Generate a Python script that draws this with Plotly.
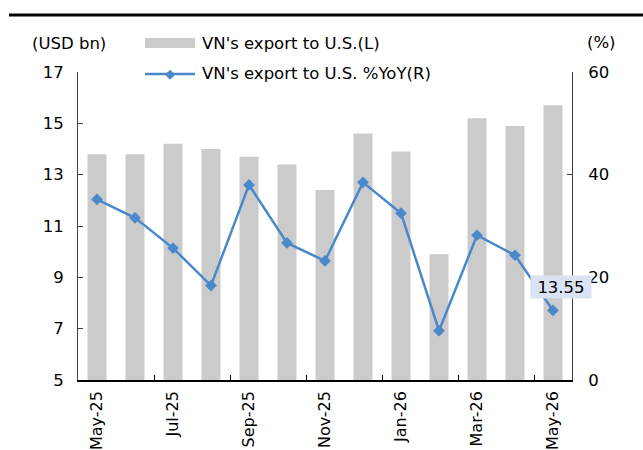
import plotly.graph_objects as go

months = ["May-25", "Jun-25", "Jul-25", "Aug-25", "Sep-25", "Oct-25", "Nov-25",
          "Dec-25", "Jan-26", "Feb-26", "Mar-26", "Apr-26", "May-26"]
export_usd_bn = [13.8, 13.8, 14.2, 14.0, 13.7, 13.4, 12.4, 14.6, 13.9, 9.9, 15.2, 14.9, 15.7]
export_yoy = [35.2, 31.6, 25.7, 18.4, 38.0, 26.7, 23.2, 38.5, 32.5, 9.6, 28.2, 24.3, 13.55]
tick_labels = ["May-25", "Jul-25", "Sep-25", "Nov-25", "Jan-26", "Mar-26", "May-26"]

W, H = 643, 450
L, R, T, B = 78, 572, 72, 380
FONT = "DejaVu Sans"
FS = 16.5
BAR_C = "#cbcbcb"
LINE_C = "#4a88cc"

x = list(range(len(months)))

fig = go.Figure()
fig.add_trace(go.Bar(x=x, y=export_usd_bn, marker_color=BAR_C, marker_line_width=0,
                     name="VN's export to U.S.(L)", yaxis="y", xaxis="x"))
fig.add_trace(go.Scatter(x=x, y=export_yoy, mode="lines+markers",
                         line=dict(color=LINE_C, width=2.5),
                         marker=dict(symbol="diamond", size=9, color=LINE_C),
                         name="VN's export to U.S. %YoY(R)", yaxis="y2", xaxis="x"))
# invisible trace to activate the tick-mark overlay axis
fig.add_trace(go.Scatter(x=[0], y=[5], xaxis="x3", yaxis="y", mode="markers",
                         marker=dict(opacity=0), hoverinfo="skip", showlegend=False))

def px2paper(px, py):
    return (px - L) / (R - L), (B - py) / (B - T)

shapes = []
x0, y0 = px2paper(9, 15)
x1, _ = px2paper(643, 15)
shapes.append(dict(type="line", xref="paper", yref="paper", x0=x0, x1=x1, y0=y0, y1=y0,
                   line=dict(color="black", width=3)))
ax0, ay0 = px2paper(145, 38)
ax1, ay1 = px2paper(195, 48)
shapes.append(dict(type="rect", xref="paper", yref="paper", x0=ax0, x1=ax1, y0=ay1, y1=ay0,
                   fillcolor=BAR_C, line=dict(width=0)))
lx0, ly = px2paper(145, 74)
lx1, _ = px2paper(195, 74)
shapes.append(dict(type="line", xref="paper", yref="paper", x0=lx0, x1=lx1, y0=ly, y1=ly,
                   line=dict(color=LINE_C, width=2.5)))

annotations = []
def ann(text, px, py, xanchor="left", size=FS, color="black"):
    ax, ay = px2paper(px, py)
    annotations.append(dict(text=text, xref="paper", yref="paper", x=ax, y=ay,
                            xanchor=xanchor, yanchor="middle", showarrow=False,
                            font=dict(family=FONT, size=size, color=color)))

ann("VN's export to U.S.(L)", 200, 43)
ann("VN's export to U.S. %YoY(R)", 200, 74)
ann("(USD bn)", 30, 43)
ann("(%)", 601, 42, xanchor="center")
ann("\u25c6", 170, 74, xanchor="center", size=13, color=LINE_C)

annotations.append(dict(text="13.55", x=12, y=export_yoy[-1], xref="x", yref="y2",
                        xanchor="center", yanchor="middle", yshift=23, xshift=8,
                        width=60, height=22, borderpad=0,
                        showarrow=False, bgcolor="#dae3f3",
                        font=dict(family=FONT, size=FS, color="black")))

fig.update_layout(
    width=W, height=H,
    margin=dict(l=L, r=W - R, t=T, b=H - B, autoexpand=False),
    paper_bgcolor="white", plot_bgcolor="white",
    showlegend=False, bargap=0.5,
    font=dict(family=FONT, size=FS, color="black"),
    xaxis=dict(range=[-0.5, 12.5], tickmode="array", tickvals=[0, 2, 4, 6, 8, 10, 12],
               ticktext=tick_labels, tickangle=-90, ticks="", showline=True,
               linecolor="black", linewidth=1.5, showgrid=False, zeroline=False,
               automargin=False, ticklabelstandoff=3,
               tickfont=dict(family=FONT, size=16)),
    xaxis3=dict(range=[-0.5, 12.5], overlaying="x", anchor="y", tickmode="array",
                tickvals=[1.5, 3.5, 5.5, 7.5, 9.5, 11.5], ticks="inside", ticklen=5,
                tickcolor="black", showticklabels=False, showline=False,
                showgrid=False, zeroline=False, automargin=False),
    yaxis=dict(range=[5, 17], tick0=5, dtick=2, ticks="inside", ticklen=5,
               tickcolor="#404040", showline=True, linecolor="#404040", linewidth=1,
               showgrid=False, zeroline=False, ticklabelstandoff=10, automargin=False,
               tickfont=dict(family=FONT, size=FS)),
    yaxis2=dict(range=[0, 60], tick0=0, dtick=20, overlaying="y", side="right",
                ticks="inside", ticklen=5, tickcolor="#404040", showline=True,
                linecolor="#404040", linewidth=1, showgrid=False, zeroline=False,
                ticklabelstandoff=12, automargin=False,
                tickfont=dict(family=FONT, size=FS)),
    shapes=shapes, annotations=annotations,
)

fig.write_html("out.html", config={"displayModeBar": False},
               post_script="document.body.style.margin='0';document.body.style.padding='0';")
